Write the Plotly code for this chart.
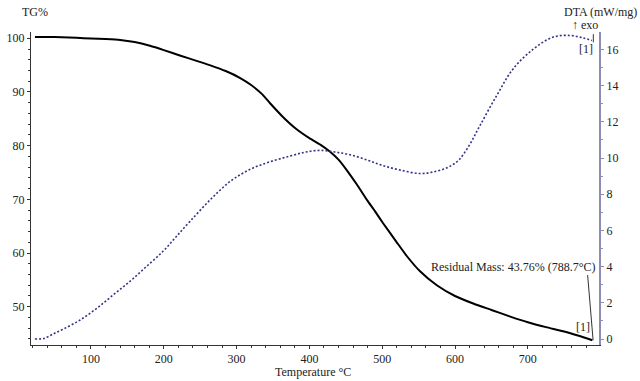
import plotly.graph_objects as go

# ---- data ----
tg_temp = [23, 40, 60, 80, 100, 120, 140, 160, 181, 200, 222, 245, 263, 285, 305, 320, 335, 346,
           364, 382, 400, 415, 428, 440, 451, 465, 479, 490, 501, 520, 534, 552, 575, 600, 625,
           650, 675, 700, 725, 750, 770, 788.7]
tg_mass = [100.25, 100.25, 100.2, 100.1, 99.95, 99.85, 99.7, 99.3, 98.6, 97.8, 96.8, 95.8, 95.0,
           93.9, 92.6, 91.3, 89.6, 87.9, 85.3, 83.1, 81.4, 80.2, 78.9, 77.4, 75.5, 72.8, 69.9, 67.8,
           65.6, 62.0, 59.4, 56.6, 54.0, 52.0, 50.6, 49.4, 48.2, 47.1, 46.2, 45.4, 44.6, 43.76]

dta_temp = [23, 35, 48, 62, 85, 108, 131, 154, 176, 199, 217, 236, 264, 291, 318, 345, 373, 395,
            415, 435, 456, 480, 501, 525, 552, 570, 589, 605, 620, 634, 657, 680, 708, 735, 758,
            776, 788]
dta_val = [0.0, 0.03, 0.28, 0.55, 1.05, 1.7, 2.45, 3.2, 4.0, 4.85, 5.65, 6.5, 7.7, 8.7, 9.36, 9.78,
           10.1, 10.33, 10.42, 10.33, 10.18, 9.88, 9.58, 9.33, 9.14, 9.23, 9.46, 9.88, 10.73, 11.77,
           13.43, 14.93, 16.03, 16.68, 16.77, 16.63, 16.49]

residual_temp = 788.7
residual_mass = 43.76

x_ticks = [100, 200, 300, 400, 500, 600, 700]
tg_ticks = [50, 60, 70, 80, 90, 100]
dta_ticks = [0, 2, 4, 6, 8, 10, 12, 14, 16]

FONT = "Liberation Serif"
AXIS_BLUE = "#8c8cb4"

fig = go.Figure()
fig.add_trace(go.Scatter(x=dta_temp, y=dta_val, mode="lines", yaxis="y2",
                         line=dict(color="#33338a", width=1.6, dash="2px,2px", smoothing=1.0),
                         line_shape="spline", showlegend=False, hoverinfo="skip"))
fig.add_trace(go.Scatter(x=tg_temp, y=tg_mass, mode="lines",
                         line=dict(color="#000000", width=2, smoothing=0.5), line_shape="spline",
                         showlegend=False, hoverinfo="skip"))

fig.update_layout(
    width=640, height=381,
    margin=dict(l=31, r=41, t=32, b=36),
    paper_bgcolor="white", plot_bgcolor="white",
    font=dict(family=FONT, size=12, color="#222222"),
    xaxis=dict(range=[17.6, 797.8], tickvals=x_ticks, showgrid=False, zeroline=False,
               automargin=False,
               showline=True, linecolor="#333333", linewidth=1,
               ticks="outside", ticklen=3, tickcolor="#333333",
               minor=dict(dtick=20, tick0=0, ticks="outside", ticklen=2, tickcolor="#333333"),
               tickfont=dict(family=FONT, size=12, color="#222222")),
    yaxis=dict(range=[42.87, 101.17], tickvals=tg_ticks, showgrid=False, zeroline=False,
               automargin=False,
               showline=True, linecolor="#333333", linewidth=1,
               ticks="outside", ticklen=3, tickcolor="#333333",
               minor=dict(dtick=2, tick0=0, ticks="outside", ticklen=2, tickcolor="#333333"),
               tickfont=dict(family=FONT, size=12, color="#222222")),
    yaxis2=dict(range=[-0.33, 16.96], tickvals=dta_ticks, overlaying="y", side="right",
                automargin=False,
                showgrid=False, zeroline=False, showline=True, linecolor=AXIS_BLUE, linewidth=2,
                ticks="outside", ticklen=3, tickcolor=AXIS_BLUE,
                minor=dict(dtick=1, tick0=0, ticks="outside", ticklen=2, tickcolor=AXIS_BLUE),
                tickfont=dict(family=FONT, size=12, color="#222222")),
)

ann = dict(showarrow=False, font=dict(family=FONT, size=12, color="#222222"))
fig.add_annotation(text="TG%", xref="paper", yref="paper", x=(20 - 31) / 568, y=(345 - 12) / 313,
                   xanchor="left", yanchor="middle", **ann)
fig.add_annotation(text="DTA (mW/mg)", xref="paper", yref="paper", x=(639 - 31) / 568,
                   y=(345 - 12) / 313, xanchor="right", yanchor="middle", **ann)
fig.add_annotation(text="↑ exo", xref="paper", yref="paper", x=(570 - 31) / 568,
                   y=(345 - 25) / 313, xanchor="left", yanchor="middle", **ann)
fig.add_annotation(text="Temperature °C", xref="paper", yref="paper", x=(313 - 31) / 568,
                   y=(345 - 372) / 313, xanchor="center", yanchor="middle", **ann)
fig.add_annotation(text=f"Residual Mass: {residual_mass:.2f}% ({residual_temp:.1f}°C)",
                   x=residual_temp + 7, y=57.4, xanchor="right", yanchor="middle", **ann)
fig.add_annotation(text="[1]", x=residual_temp - 1, y=46.3, xanchor="right", yanchor="middle", **ann)
fig.add_annotation(text="[1]", x=dta_temp[-1] + 4, y=16.0, yref="y2", xanchor="right",
                   yanchor="middle", **ann)

fig.add_shape(type="line", x0=residual_temp - 6.5, y0=55.9, x1=residual_temp + 1, y1=residual_mass,
              line=dict(color="#333333", width=1))
fig.add_shape(type="line", x0=dta_temp[-1] + 2, y0=dta_val[-1] - 0.1, x1=dta_temp[-1] + 2,
              y1=dta_val[-1] + 0.35, yref="y2", line=dict(color="#333333", width=1))

fig.write_html("out.html", config={"displayModeBar": False},
               post_script="document.body.style.margin='0';document.body.style.padding='0';"
                           "document.body.style.overflow='hidden';")
